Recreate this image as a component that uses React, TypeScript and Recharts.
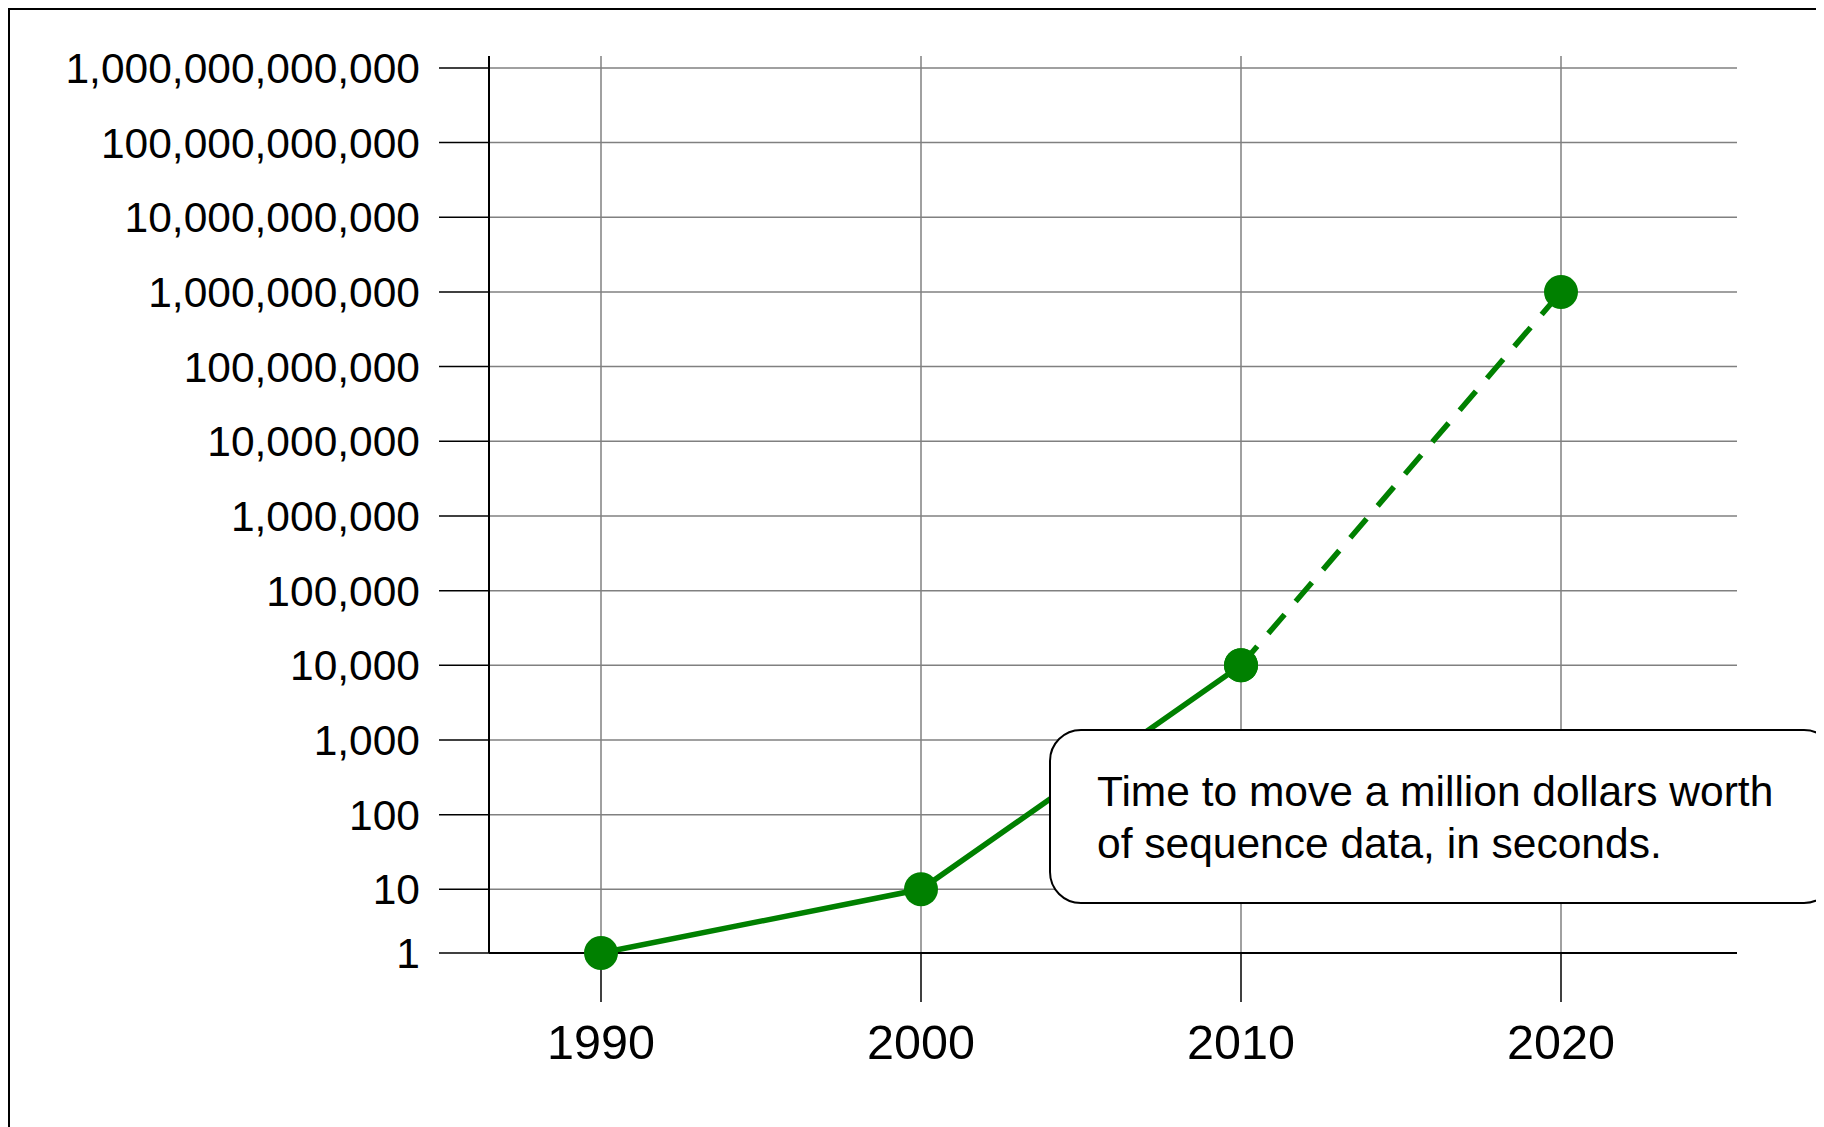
import React from 'react';
import { LineChart, Line, XAxis, YAxis, CartesianGrid } from 'recharts';

const years = [1990, 2000, 2010, 2020];
const measuredSeconds: (number | null)[] = [1, 10, 10000, null];
const projectedSeconds: (number | null)[] = [null, null, 10000, 1000000000];
const yTickValues = [
  1, 10, 100, 1000, 10000, 100000, 1000000, 10000000, 100000000,
  1000000000, 10000000000, 100000000000, 1000000000000,
];
const xTickYears = [1990, 2000, 2010, 2020];
const noteLines = ['Time to move a million dollars worth', 'of sequence data, in seconds.'];

const FONT = '"Liberation Sans", Arial, Helvetica, sans-serif';
const GREEN = '#008000';

// axis scale: logarithmic decades, with the lowest decade (1..10) drawn shorter
const ONE_POS = 0.147;
const TOP_POS = 12.16;
const pos = (v: number) => (v >= 10 ? Math.log10(v) : ONE_POS + (1 - ONE_POS) * Math.log10(v));

const data = years.map((year, i) => ({
  year,
  measured: measuredSeconds[i] == null ? null : pos(measuredSeconds[i] as number),
  projected: projectedSeconds[i] == null ? null : pos(projectedSeconds[i] as number),
}));

const yTicks = yTickValues.map(pos);
const formatY = (p: number) => {
  let best = 0;
  for (let i = 0; i < yTicks.length; i++) {
    if (Math.abs(yTicks[i] - p) < Math.abs(yTicks[best] - p)) best = i;
  }
  return yTickValues[best].toLocaleString('en-US');
};

export default function App() {
  return (
    <div
      style={{
        position: 'relative',
        width: 1816,
        height: 1119,
        boxSizing: 'border-box',
        borderTop: '2px solid #000',
        borderLeft: '2px solid #000',
        overflow: 'hidden',
        background: '#fff',
        fontFamily: FONT,
      }}
    >
      <LineChart
        width={1814}
        height={1117}
        data={data}
        margin={{ top: 46, right: 87, bottom: 74, left: 0 }}
      >
        <CartesianGrid stroke="#808080" strokeWidth={1.5} syncWithTicks />
        <XAxis
          dataKey="year"
          type="number"
          domain={[1986.5, 2025.5]}
          ticks={xTickYears}
          interval={0}
          height={100}
          tickSize={49}
          tickMargin={23}
          axisLine={{ stroke: '#000', strokeWidth: 2 }}
          tickLine={{ stroke: '#000', strokeWidth: 1.5 }}
          tick={{ fill: '#000', fontSize: 48.5, fontFamily: FONT }}
        />
        <YAxis
          type="number"
          domain={[ONE_POS, TOP_POS]}
          ticks={yTicks}
          interval={0}
          width={479}
          tickSize={50}
          tickMargin={19}
          tickFormatter={formatY}
          axisLine={{ stroke: '#000', strokeWidth: 2 }}
          tickLine={{ stroke: '#000', strokeWidth: 1.5 }}
          tick={{ fill: '#000', fontSize: 42.5, fontFamily: FONT }}
        />
        <Line
          dataKey="projected"
          stroke={GREEN}
          strokeWidth={5.5}
          strokeDasharray="25 17"
          dot={{ r: 17, fill: GREEN, stroke: 'none' }}
          isAnimationActive={false}
          connectNulls={false}
        />
        <Line
          dataKey="measured"
          stroke={GREEN}
          strokeWidth={5.5}
          dot={{ r: 17, fill: GREEN, stroke: 'none' }}
          isAnimationActive={false}
          connectNulls={false}
        />
      </LineChart>
      <div
        style={{
          position: 'absolute',
          left: 1039,
          top: 719,
          width: 787,
          height: 175,
          boxSizing: 'border-box',
          border: '2px solid #000',
          borderRadius: 32,
          background: '#fff',
          paddingLeft: 46,
          paddingTop: 35,
          fontSize: 42.5,
          lineHeight: '52px',
          color: '#000',
          fontFamily: FONT,
          whiteSpace: 'nowrap',
        }}
      >
        {noteLines.map((t) => (
          <div key={t}>{t}</div>
        ))}
      </div>
    </div>
  );
}
